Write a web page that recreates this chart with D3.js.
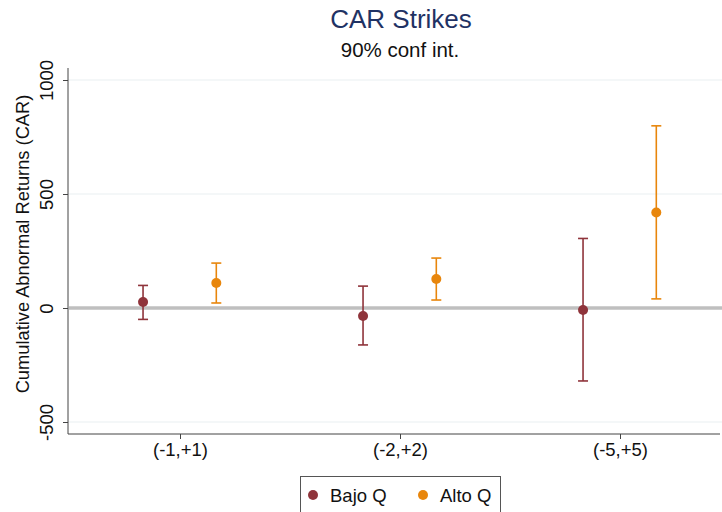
<!DOCTYPE html>
<html>
<head>
<meta charset="utf-8">
<script src="https://cdn.jsdelivr.net/npm/d3@7"></script>
<style>
  body { margin: 0; background: #fff; }
  text { font-family: "Liberation Sans", Arial, sans-serif; }
</style>
</head>
<body>
<div id="chart"></div>
<script>
// data
var windows = ["(-1,+1)", "(-2,+2)", "(-5,+5)"];
var bajoCar = [26, -35, -9];
var bajoLo = [-50, -162, -320];
var bajoHi = [99, 96, 305];
var altoCar = [110, 127, 419];
var altoLo = [22, 35, 40];
var altoHi = [197, 219, 799];
var yTicks = [-500, 0, 500, 1000];
var series = ["Bajo Q", "Alto Q"];
var colors = ["#8f343b", "#e8860c"];

var W = 722, H = 512;

var svg = d3.select("#chart")
            .append("svg")
            .attr("width", W)
            .attr("height", H);

var x = d3.scaleLinear().domain([1, 3]).range([180, 620]);
var y = d3.scaleLinear().domain([0, 500]).range([308, 194]);
var plotLeft = 68, plotRight = 720, plotBottom = 434, plotTop = 68;

// grid lines
svg.append("g")
    .selectAll("line")
    .data(yTicks)
    .enter()
    .append("line")
    .attr("x1", plotLeft)
    .attr("x2", W)
    .attr("y1", d => y(d))
    .attr("y2", d => y(d))
    .attr("stroke", "#eaf0f1")
    .attr("stroke-width", 1.2);

// zero reference line
svg.append("line")
    .attr("x1", plotLeft + 1)
    .attr("x2", W)
    .attr("y1", y(0))
    .attr("y2", y(0))
    .attr("stroke", "#bfbfbf")
    .attr("stroke-width", 3.5);

// y axis (plain hyphen for negatives, like the original)
var yAxis = d3.axisLeft(y).tickValues(yTicks).tickSize(5).tickFormat(d => String(d));
var gy = svg.append("g")
    .attr("transform", `translate(${plotLeft},0)`)
    .call(yAxis);
gy.select(".domain").attr("d", `M0,${plotTop}V${plotBottom}`).attr("stroke", "#444");
gy.selectAll(".tick line").attr("stroke", "#444");
gy.selectAll(".tick text")
    .attr("transform", `rotate(-90)`)
    .attr("x", 0)
    .attr("y", -15)
    .attr("dy", 0)
    .attr("text-anchor", "middle")
    .attr("font-size", "18.5px")
    .attr("fill", "#111");

// x axis
var xAxis = d3.axisBottom(x).tickValues([1, 2, 3]).tickSize(5).tickFormat((d, i) => windows[i]);
var gx = svg.append("g")
    .attr("transform", `translate(0,${plotBottom})`)
    .call(xAxis);
gx.select(".domain").attr("d", `M${plotLeft},0H${plotRight}`).attr("stroke", "#444");
gx.selectAll(".tick line").attr("stroke", "#444");
gx.selectAll(".tick text")
    .attr("y", 22)
    .attr("dy", 0)
    .attr("font-size", "18.5px")
    .attr("fill", "#111");

// y title
svg.append("text")
    .attr("transform", `translate(29,244) rotate(-90)`)
    .attr("text-anchor", "middle")
    .attr("font-size", "18.3px")
    .attr("fill", "#111")
    .text("Cumulative Abnormal Returns (CAR)");

// titles
svg.append("text")
    .attr("x", 401)
    .attr("y", 28)
    .attr("text-anchor", "middle")
    .attr("font-size", "26px")
    .attr("fill", "#1f3264")
    .text("CAR Strikes");

svg.append("text")
    .attr("x", 400)
    .attr("y", 57)
    .attr("text-anchor", "middle")
    .attr("font-size", "20.5px")
    .attr("fill", "#111")
    .text("90% conf int.");

// error bars + points
var groups = [
    {car: bajoCar, lo: bajoLo, hi: bajoHi, off: -0.168},
    {car: altoCar, lo: altoLo, hi: altoHi, off: 0.165}
];

groups.forEach(function(g, s) {
    var rows = windows.map((w, i) => ({i: i + 1, car: g.car[i], lo: g.lo[i], hi: g.hi[i]}));
    var gg = svg.append("g").attr("stroke", colors[s]).attr("fill", colors[s]);
    gg.selectAll("line.v").data(rows).enter().append("line")
        .attr("x1", d => x(d.i + g.off)).attr("x2", d => x(d.i + g.off))
        .attr("y1", d => y(d.lo)).attr("y2", d => y(d.hi))
        .attr("stroke-width", 1.6);
    gg.selectAll("line.t").data(rows).enter().append("line")
        .attr("x1", d => x(d.i + g.off) - 5).attr("x2", d => x(d.i + g.off) + 5)
        .attr("y1", d => y(d.hi)).attr("y2", d => y(d.hi))
        .attr("stroke-width", 1.6);
    gg.selectAll("line.b").data(rows).enter().append("line")
        .attr("x1", d => x(d.i + g.off) - 5).attr("x2", d => x(d.i + g.off) + 5)
        .attr("y1", d => y(d.lo)).attr("y2", d => y(d.lo))
        .attr("stroke-width", 1.6);
    gg.selectAll("circle").data(rows).enter().append("circle")
        .attr("cx", d => x(d.i + g.off))
        .attr("cy", d => y(d.car))
        .attr("r", 5)
        .attr("stroke", "none");
});

// legend
var leg = svg.append("g");
leg.append("rect")
    .attr("x", 300.5).attr("y", 476.5)
    .attr("width", 200).attr("height", 40)
    .attr("fill", "#fff")
    .attr("stroke", "#555");
var legX = [313, 423];
series.forEach(function(name, i) {
    leg.append("circle").attr("cx", legX[i]).attr("cy", 495).attr("r", 5).attr("fill", colors[i]);
    leg.append("text").attr("x", legX[i] + 17).attr("y", 502)
        .attr("font-size", "18.5px").attr("fill", "#111").text(name);
});
</script>
</body>
</html>
